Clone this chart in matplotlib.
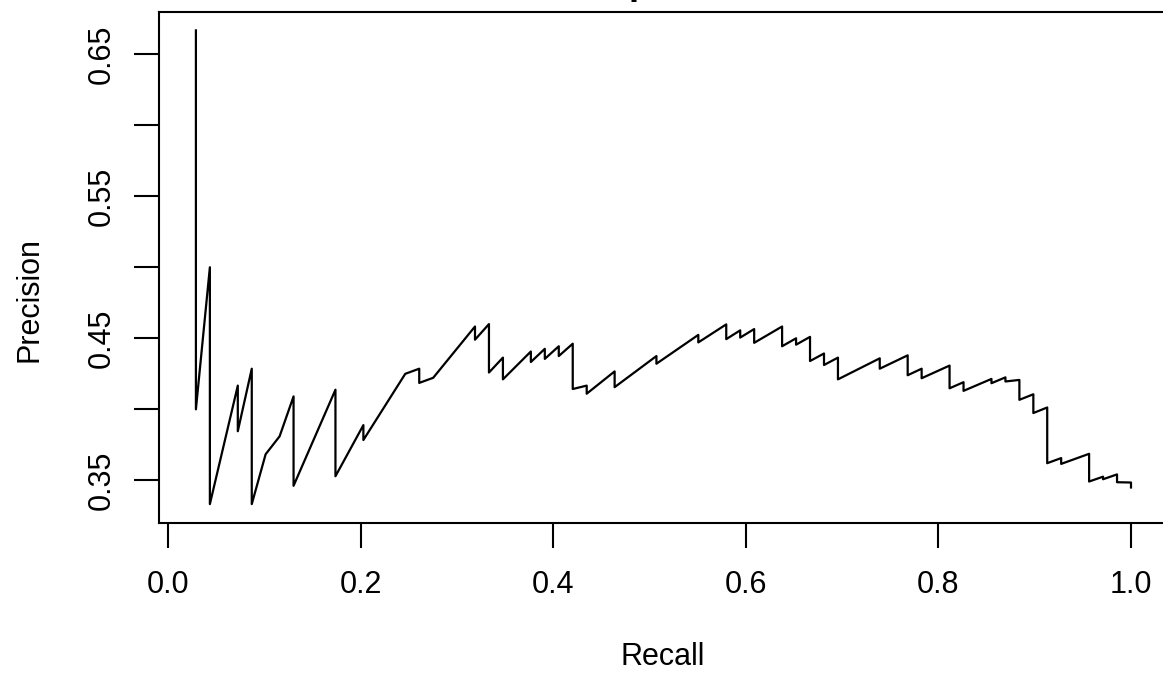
import matplotlib
matplotlib.use("Agg")
import matplotlib.pyplot as plt

# precision / recall vertices
recall = [0.0290, 0.0290, 0.0435, 0.0435, 0.0725, 0.0725, 0.0870, 0.0870,
          0.1014, 0.1159, 0.1304, 0.1304, 0.1739, 0.1739, 0.2029, 0.2029,
          0.2464, 0.2609, 0.2609, 0.2754, 0.3188, 0.3188, 0.3333, 0.3333,
          0.3478, 0.3478, 0.3768, 0.3768, 0.3913, 0.3913, 0.4058, 0.4058,
          0.4203, 0.4203, 0.4348, 0.4348, 0.4638, 0.4638, 0.5072, 0.5072,
          0.5507, 0.5507, 0.5797, 0.5797, 0.5942, 0.5942, 0.6087, 0.6087,
          0.6377, 0.6377, 0.6522, 0.6522, 0.6667, 0.6667, 0.6812, 0.6812,
          0.6957, 0.6957, 0.7391, 0.7391, 0.7681, 0.7681, 0.7826, 0.7826,
          0.8116, 0.8116, 0.8261, 0.8261, 0.8551, 0.8551, 0.8696, 0.8696,
          0.8841, 0.8841, 0.8986, 0.8986, 0.9130, 0.9130, 0.9275, 0.9275,
          0.9565, 0.9565, 0.9710, 0.9710, 0.9855, 0.9855, 1.0000, 1.0000]
precision = [0.6667, 0.4000, 0.5000, 0.3333, 0.4167, 0.3846, 0.4286, 0.3333,
             0.3684, 0.3810, 0.4091, 0.3462, 0.4138, 0.3529, 0.3889, 0.3784,
             0.4250, 0.4286, 0.4186, 0.4222, 0.4583, 0.4490, 0.4600, 0.4259,
             0.4364, 0.4211, 0.4407, 0.4333, 0.4426, 0.4355, 0.4444, 0.4375,
             0.4462, 0.4143, 0.4167, 0.4110, 0.4267, 0.4156, 0.4375, 0.4321,
             0.4524, 0.4471, 0.4598, 0.4494, 0.4556, 0.4505, 0.4565, 0.4468,
             0.4583, 0.4444, 0.4500, 0.4455, 0.4510, 0.4340, 0.4393, 0.4312,
             0.4364, 0.4211, 0.4359, 0.4286, 0.4380, 0.4240, 0.4286, 0.4219,
             0.4308, 0.4148, 0.4191, 0.4130, 0.4214, 0.4184, 0.4225, 0.4196,
             0.4207, 0.4067, 0.4106, 0.3974, 0.4013, 0.3621, 0.3657, 0.3616,
             0.3687, 0.3492, 0.3526, 0.3508, 0.3542, 0.3487, 0.3485, 0.3450]

xticks = [0.0, 0.2, 0.4, 0.6, 0.8, 1.0]
yticks = [0.35, 0.40, 0.45, 0.50, 0.55, 0.60, 0.65]
ytick_labels = ["0.35", "", "0.45", "", "0.55", "", "0.65"]

plt.rcParams['font.family'] = ['Liberation Sans', 'DejaVu Sans']
fs = 22

W, H = 1163, 677
fig = plt.figure(figsize=(W / 100, H / 100), dpi=100)
# plot region in pixels (right edge falls outside the picture, like the reference crop)
left, right, top, bottom = 158.5, 1168.4, 11.5, 523.0
ax = fig.add_axes([left / W, 1 - bottom / H, (right - left) / W, (bottom - top) / H])

ax.plot(recall, precision, color='black', lw=1.6)

ax.set_xlim(-0.00985, 1.03884)
ax.set_ylim(0.32, 0.68)
ax.set_xticks(xticks)
ax.set_xticklabels([f"{v:.1f}" for v in xticks])
ax.set_yticks(yticks)
ax.set_yticklabels(ytick_labels, rotation=90, va='center')
ax.tick_params(direction='out', length=18, width=1.5, labelsize=fs, color='black')
ax.tick_params(axis='x', pad=16)
ax.tick_params(axis='y', pad=12)
for s in ax.spines.values():
    s.set_linewidth(1.5)

fig.text(663 / W, 1 - 657 / H, "Recall", ha='center', va='center', fontsize=fs)
fig.text(30 / W, 1 - 300 / H, "Precision", ha='center', va='center',
         rotation=90, fontsize=fs)
# title sits above the visible area; only a descender peeks in
fig.text(657 / W, 1 + 6.5 / H, "Top hits", ha='center', va='baseline',
         fontsize=fs * 1.2, fontweight='bold')

fig.savefig("out.png", dpi=100)
